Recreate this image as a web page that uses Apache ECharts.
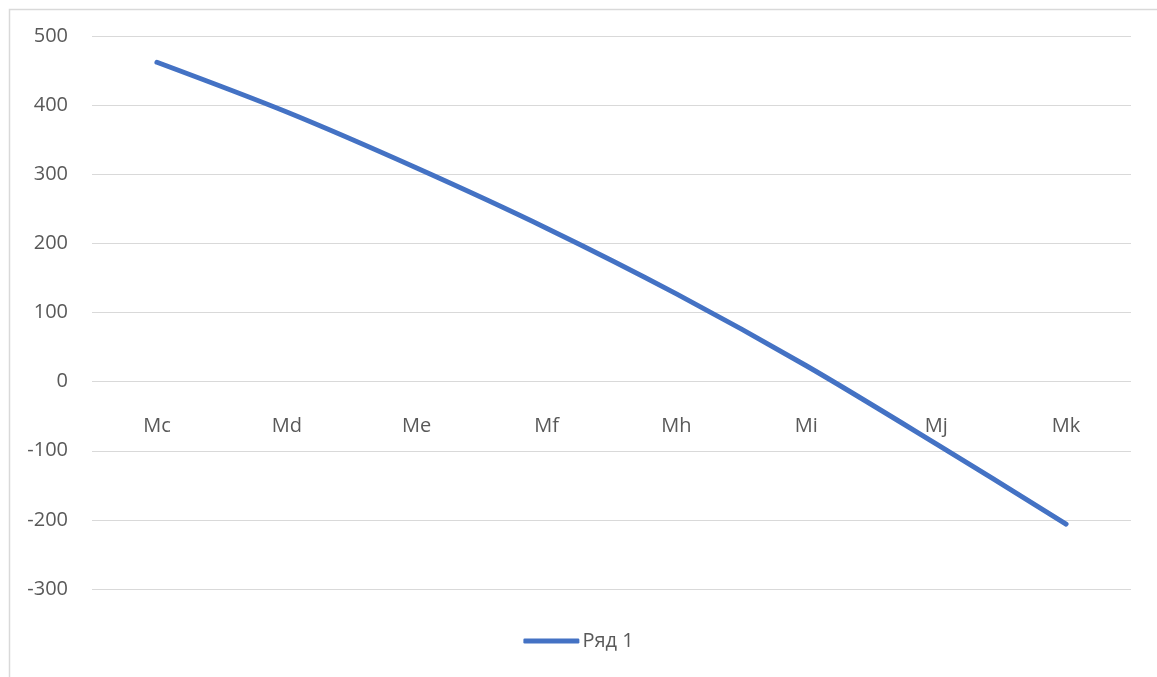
<!DOCTYPE html>
<html>
<head>
<meta charset="utf-8">
<script src="https://cdn.jsdelivr.net/npm/echarts@6/dist/echarts.min.js"></script>
<style>
  html, body { margin: 0; padding: 0; background: #ffffff; }
  #chart { width: 1157px; height: 677px; }
</style>
</head>
<body>
<div id="chart"></div>
<script>
// Categories along the horizontal axis
const categories = ['Mc', 'Md', 'Me', 'Mf', 'Mh', 'Mi', 'Mj', 'Mk'];
// Values of the single series
const seriesName = 'Ряд 1';
const seriesValues = [462, 390, 309, 222, 127, 23, -90, -206];
// Value axis range
const yMin = -300;
const yMax = 500;
const yStep = 100;

const chart = echarts.init(document.getElementById('chart'), null, { renderer: 'canvas' });

const textColor = '#595959';
const gridColor = '#d9d9d9';
const fontFamily = '"Open Sans", "Liberation Sans", sans-serif';

const gridTop = 36;
const gridBottom = 88;
const plotHeight = 677 - gridTop - gridBottom;
// Distance from the bottom of the plot up to the zero line
const zeroOffset = plotHeight * (0 - yMin) / (yMax - yMin);

chart.setOption({
  animation: false,
  backgroundColor: '#ffffff',
  graphic: [{
    type: 'rect',
    left: 7,
    top: 7,
    shape: { width: 1170, height: 690 },
    style: { fill: 'none', stroke: gridColor, lineWidth: 1.5 },
    silent: true
  }],
  grid: { left: 92, right: 26, top: gridTop, bottom: gridBottom, containLabel: false },
  legend: {
    top: 626,
    left: 'center',
    data: [{ name: seriesName, icon: 'roundRect' }],
    itemWidth: 56,
    itemHeight: 5,
    itemGap: 10,
    textStyle: { color: textColor, fontSize: 20, fontFamily: fontFamily, padding: [0, 0, 0, -2] }
  },
  xAxis: {
    type: 'category',
    data: categories,
    boundaryGap: true,
    offset: -zeroOffset,
    axisLine: { show: false, onZero: false },
    axisTick: { show: false },
    axisLabel: { color: textColor, fontSize: 20, fontFamily: fontFamily, margin: 35 }
  },
  yAxis: {
    type: 'value',
    min: yMin,
    max: yMax,
    interval: yStep,
    axisLine: { show: false },
    axisTick: { show: false },
    splitLine: { lineStyle: { color: gridColor, width: 1.2 } },
    axisLabel: { color: textColor, fontSize: 20, fontFamily: fontFamily, margin: 24 }
  },
  series: [{
    name: seriesName,
    type: 'line',
    data: seriesValues,
    smooth: 0.3,
    symbol: 'none',
    lineStyle: { color: '#4472C4', width: 5, cap: 'round', join: 'round' },
    itemStyle: { color: '#4472C4' }
  }]
});
</script>
</body>
</html>
